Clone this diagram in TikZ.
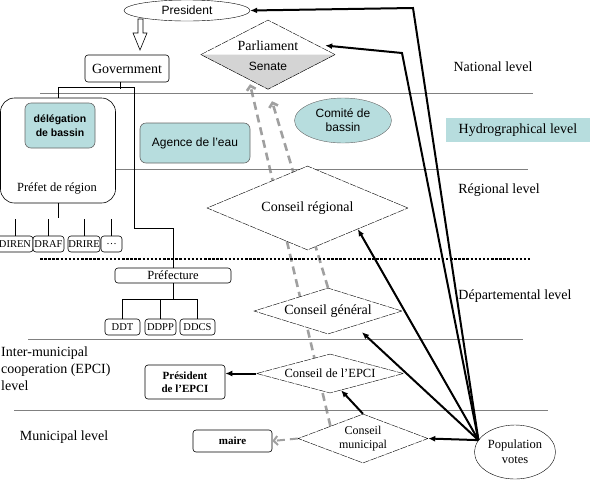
\documentclass[tikz,border=0pt]{standalone}
\usepackage{fontspec}
\setmainfont{Liberation Serif}
\setsansfont{Liberation Sans}
\usetikzlibrary{shapes.geometric,arrows.meta,calc}
\definecolor{eau}{RGB}{183,221,222}
\definecolor{senat}{RGB}{212,212,212}
\definecolor{vgray}{RGB}{160,160,160}
\pgfdeclarelayer{back}
\pgfsetlayers{back,main}

\begin{document}
\begin{tikzpicture}[
    x=1pt, y=-1pt,
    every node/.style={font=\fontsize{13}{15}\selectfont},
    box/.style={draw, rounded corners=3pt, fill=white, line width=0.6pt, inner sep=0pt},
    dir/.style={box, minimum height=16pt, font=\fontsize{10.5}{12}\selectfont},
    basin/.style={box, rounded corners=6pt, fill=eau, draw=black!60, align=center,
      font=\sffamily\fontsize{12}{14}\selectfont},
    dia/.style={diamond, draw, fill=white, inner sep=0pt, line width=0.4pt,
      dash pattern=on 7pt off 1pt},
    lvl/.style={draw=black!50, line width=0.6pt},
    lvltext/.style={font=\fontsize{14}{17}\selectfont},
    elect/.style={line width=2pt, -{Latex[length=7pt,width=6pt]}},
    vote/.style={draw=vgray, line width=2.6pt, dash pattern=on 8pt off 5pt,
      -{Straight Barb[length=4pt,width=9pt]}}
  ]
  \useasboundingbox (0,0) rectangle (593,483);

  % levels
  \draw[lvl] (40,93) -- (533,93);
  \draw[lvl] (116,169) -- (528,169);
  \draw[line width=2.5pt, dash pattern=on 2.5pt off 1.6pt] (40,259) -- (530,259);
  \draw[lvl] (28,339) -- (523,339);
  \draw[lvl] (14,410) -- (548,410);

  \node[lvltext] (natl) at (493,67) {National level};
  \node[lvltext, fill=eau, minimum width=144pt, minimum height=24pt] (hydl) at (518,130) {Hydrographical level};
  \node[lvltext] (regl) at (499,190) {Régional level};
  \node[lvltext] (depl) at (515,296) {Départemental level};
  \node[lvltext, align=left, anchor=west, inner sep=0pt] (epcil) at (1,369)
    {Inter-municipal\\cooperation (EPCI)\\level};
  \node[lvltext] (munl) at (64,437) {Municipal level};

  % state
  \node[draw, ellipse, fill=white, minimum width=126pt, minimum height=21pt, inner sep=0pt,
    font=\sffamily\fontsize{12}{14}\selectfont] (pres) at (187,10.5) {President};
  \draw[line width=0.6pt, fill=white] (138,19) -- (143,19) -- (143,33) -- (147,33)
    -- (140,50) -- (133,33) -- (138,33) -- cycle;
  \node[box, minimum width=84pt, minimum height=27pt, font=\fontsize{14}{16}\selectfont] (gov) at (127,68.5) {Government};

  \node[box, rounded corners=14pt, minimum width=115pt, minimum height=105pt] (prefreg) at (58,150.5) {};
  \node[font=\fontsize{12.5}{15}\selectfont] (prefregl) at (57,188) {Préfet de région};
  \node[basin, minimum width=70pt, minimum height=45pt,
    font=\sffamily\bfseries\fontsize{10.5}{14}\selectfont] (deleg) at (60,125.5) {délégation\\de bassin};
  \node[basin, minimum width=110pt, minimum height=40pt] (agence) at (195,143) {Agence de l'eau};
  \node[ellipse, draw=black!60, fill=eau, minimum width=97pt, minimum height=45pt, inner sep=0pt,
    align=center, font=\sffamily\fontsize{12}{14}\selectfont] (comite) at (343,120.5) {Comité de\\bassin};

  \node[dir, minimum width=36pt] (diren) at (15,244) {DIREN};
  \node[dir, minimum width=31pt] (draf) at (48.5,244) {DRAF};
  \node[dir, minimum width=32pt] (drire) at (84,244) {DRIRE};
  \node[dir, minimum width=21pt] (etc) at (111.5,244) {\dots};

  \node[box, minimum width=116pt, minimum height=15pt, font=\fontsize{12.5}{15}\selectfont] (pref) at (173,275.5) {Préfecture};
  \node[dir, minimum width=35pt] (ddt) at (122.5,327) {DDT};
  \node[dir, minimum width=31pt] (ddpp) at (160.5,327) {DDPP};
  \node[dir, minimum width=35pt] (ddcs) at (197.5,327) {DDCS};

  \node[box, minimum width=80pt, minimum height=34pt, align=center,
    font=\bfseries\fontsize{11}{13}\selectfont] (presepci) at (185,382) {Président\\de l'EPCI};
  \node[box, minimum width=79pt, minimum height=22pt,
    font=\bfseries\fontsize{11}{13}\selectfont] (maire) at (232.5,441) {maire};

  % org chart
  \draw[line width=0.6pt] ([xshift=-7pt]gov.south) -- ++(0,7);
  \draw[line width=0.6pt] (prefreg.north) |- (134,87) -- (134,228) -| (pref.north);
  \draw[line width=0.6pt] (prefreg.south) -- ++(0,15);
  \foreach \d in {diren,draf,drire,etc}
    \draw[line width=0.6pt] (\d.north) -- ++(0,-17);
  \draw[line width=0.6pt] (pref.south) -- ++(0,16) coordinate (p1);
  \draw[line width=0.6pt] (ddt.north) |- (p1) -| (ddcs.north);
  \draw[line width=0.6pt] (ddpp.north) -- (ddpp.north |- p1);

  % elected bodies
  \node[dia, minimum width=134pt, minimum height=69pt] (parl) at (268,54.5) {};
  \fill[senat] (parl.west) -- (parl.south) -- (parl.east) -- cycle;
  \draw[line width=0.4pt, dash pattern=on 7pt off 1pt] (parl.west) -- (parl.south) -- (parl.east);
  \node[font=\fontsize{14}{16}\selectfont] (parlt) at (268,46) {Parliament};
  \node[font=\sffamily\fontsize{12}{14}\selectfont] (senate) at (268,66) {Senate};

  \node[dia, minimum width=201pt, minimum height=84pt,
    label={[font=\fontsize{14}{16}\selectfont]center:Conseil régional}] (creg) at (307.5,208) {};
  \node[dia, minimum width=148pt, minimum height=46pt,
    label={[font=\fontsize{14}{16}\selectfont]center:Conseil général}] (cgen) at (328,311) {};
  \node[dia, minimum width=147pt, minimum height=39pt,
    label={[font=\fontsize{12.5}{15}\selectfont]center:Conseil de l'EPCI}] (cepci) at (330,373.5) {};
  \node[dia, minimum width=130pt, minimum height=49pt,
    label={[align=center, font=\fontsize{12}{14}\selectfont]center:Conseil\\municipal}] (cmun) at (363,438.5) {};

  \node[draw, ellipse, minimum width=81pt, minimum height=54pt, inner sep=0pt, align=center,
    font=\fontsize{12.5}{15}\selectfont] (pop) at (515,452) {Population\\votes};

  % votes
  \coordinate (pv) at (pop.162);
  \coordinate (bendpar) at (402,53);
  \coordinate (bendpres) at (413,8);
  \draw[elect] (pv) -- (cmun.east);
  \draw[elect] (pv) -- ([xshift=34pt,yshift=2pt]cgen.south);
  \draw[elect] (pv) -- (creg.south east);
  \draw[elect] (pv) -- (bendpar) -- ([xshift=-10pt,yshift=9pt]parl.east);
  \draw[elect] (pv) -- (bendpres) -- (pres.east);
  \draw[elect] (cmun.north) -- ($(cepci.south)!0.15!(cepci.east)$);
  \draw[elect] (cepci.west) -- (cepci.west -| presepci.east);

  \begin{pgfonlayer}{back}
    \draw[vote] (cmun.north west) -- ([xshift=-18pt,yshift=5pt]parl.south);
    \draw[vote] (cgen.north) -- ([xshift=4pt,yshift=-12pt]parl.south);
  \end{pgfonlayer}
  \draw[vote, line width=2pt] (cmun.west) -- (maire.east);
\end{tikzpicture}
\end{document}
